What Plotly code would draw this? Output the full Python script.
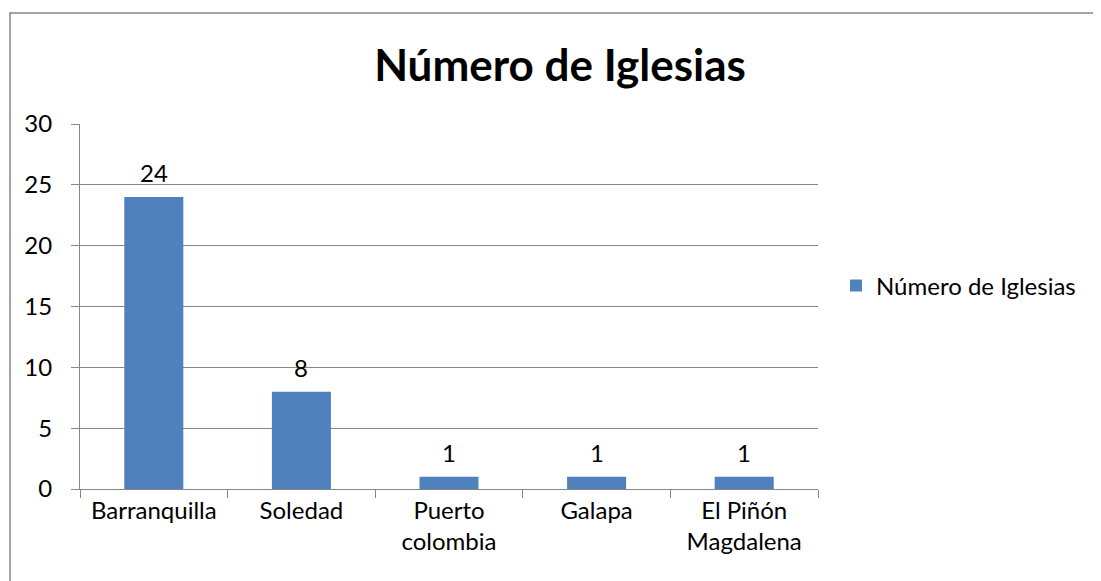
import plotly.graph_objects as go

categories = ["Barranquilla", "Soledad", "Puerto<br>colombia", "Galapa", "El Piñón<br>Magdalena"]
values = [24, 8, 1, 1, 1]
series_name = "Número de Iglesias"
y_ticks = [0, 5, 10, 15, 20, 25, 30]

FONT = "Lato, 'Open Sans', sans-serif"
GRID = "#878787"
OFF = 8  # browser body margin

fig = go.Figure()
fig.add_trace(go.Bar(
    x=categories, y=values, name=series_name,
    marker=dict(color="#4F81BD", line=dict(width=0)),
    width=0.4,
    hoverinfo="x+y",
))
for c, v in zip(categories, values):
    fig.add_annotation(x=c, y=v, text=str(v), showarrow=False, yanchor="bottom",
                       yshift=8, font=dict(size=24, family=FONT, color="black"))

W, H = 1101 - OFF, 581 - OFF
ml, mt = 80 - OFF, 124 - OFF
pw, ph = 738, 365
mr, mb = W - ml - pw, H - mt - ph

fig.update_layout(
    width=W, height=H,
    margin=dict(l=ml, r=mr, t=mt, b=mb),
    paper_bgcolor="white", plot_bgcolor="white",
    font=dict(family=FONT, size=24, color="black"),
    title=dict(text="<b>Número de Iglesias</b>", x=(560 - 80) / pw, xref="paper",
               xanchor="center", y=1 - (66 - OFF) / H, yanchor="middle",
               font=dict(size=44, family=FONT, color="black")),
    showlegend=True,
    legend=dict(x=(836 - 80) / pw, y=(489 - 286) / ph, xanchor="left", yanchor="middle",
                font=dict(size=24, family=FONT), itemwidth=30, bgcolor="rgba(0,0,0,0)"),
    shapes=[dict(type="rect", xref="paper", yref="paper",
                 x0=(10 - 80) / pw, x1=1.6, y0=-0.5, y1=(489 - 13) / ph,
                 line=dict(color="#868686", width=1.5), fillcolor="rgba(0,0,0,0)", layer="below")],
)
fig.update_xaxes(
    showline=True, linecolor=GRID, linewidth=1,
    ticks="outside", tickson="boundaries", ticklen=8, tickcolor=GRID,
    tickfont=dict(size=24, family=FONT), showgrid=False,
)
fig.update_yaxes(
    range=[0, 30], tickvals=y_ticks, showline=True, linecolor=GRID, linewidth=1,
    ticks="outside", ticklen=8, tickcolor=GRID, ticklabelstandoff=14,
    showgrid=True, gridcolor=GRID, gridwidth=1, zeroline=False,
    tickfont=dict(size=24, family=FONT),
)

fig.write_html("out.html")
